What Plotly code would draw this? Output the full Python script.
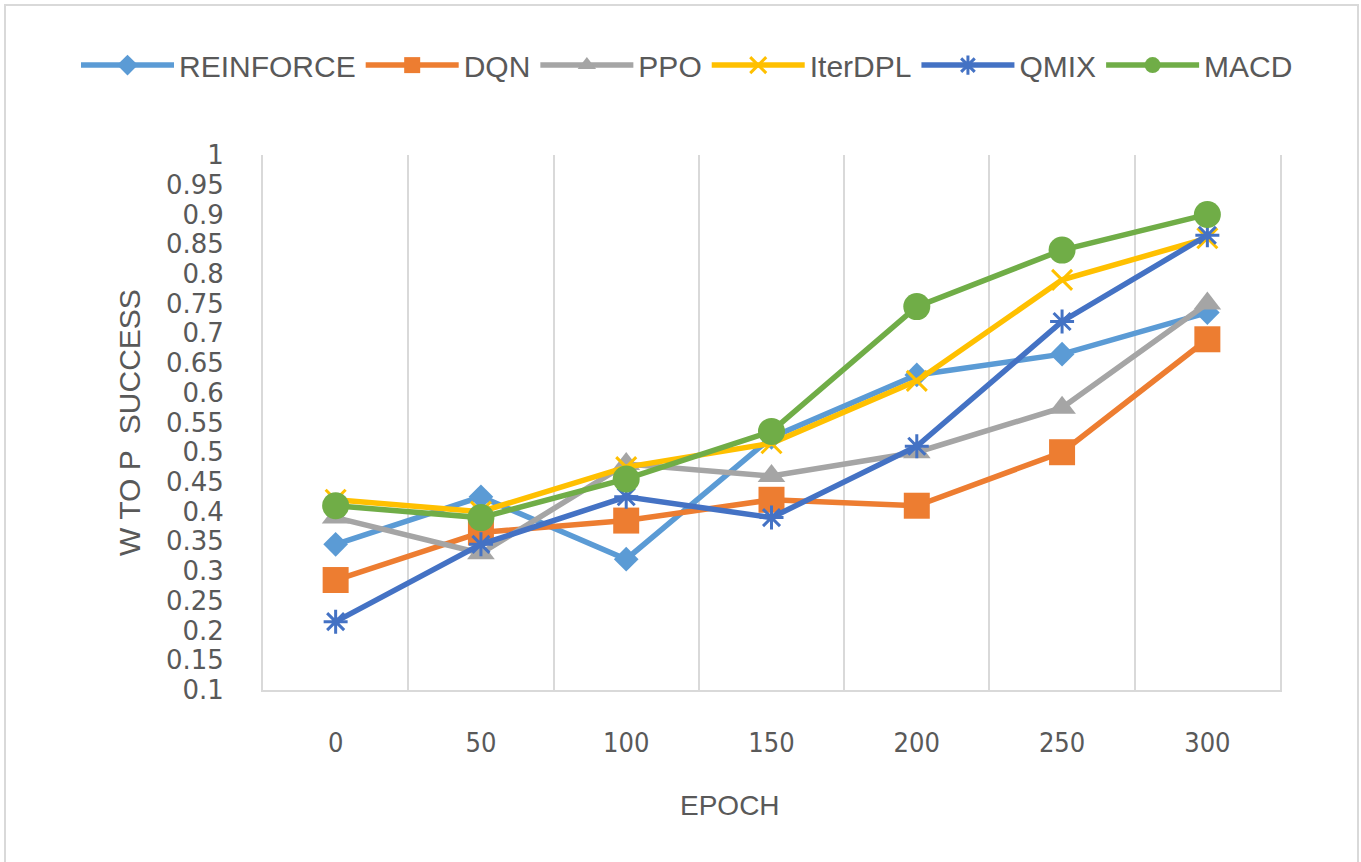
import plotly.graph_objects as go

# Training epochs (category axis)
epochs = ["0", "50", "100", "150", "200", "250", "300"]

# W TO P success rate per method
reinforce = [0.345, 0.425, 0.32, 0.525, 0.63, 0.665, 0.735]
dqn = [0.285, 0.365, 0.385, 0.42, 0.41, 0.50, 0.69]
ppo = [0.39, 0.33, 0.48, 0.46, 0.50, 0.575, 0.75]
iterdpl = [0.42, 0.40, 0.475, 0.515, 0.62, 0.79, 0.86]
qmix = [0.215, 0.345, 0.425, 0.39, 0.51, 0.72, 0.865]
macd = [0.41, 0.39, 0.455, 0.535, 0.745, 0.84, 0.90]

y_ticks = [0.1, 0.15, 0.2, 0.25, 0.3, 0.35, 0.4, 0.45, 0.5, 0.55,
           0.6, 0.65, 0.7, 0.75, 0.8, 0.85, 0.9, 0.95, 1.0]
y_tick_text = ["0.1", "0.15", "0.2", "0.25", "0.3", "0.35", "0.4", "0.45", "0.5", "0.55",
               "0.6", "0.65", "0.7", "0.75", "0.8", "0.85", "0.9", "0.95", "1"]

TEXT = "#595959"
GRID = "#D9D9D9"
SANS = "Liberation Sans, Arial, sans-serif"

series = [
    ("REINFORCE", reinforce, "#5B9BD5", dict(symbol="diamond", size=19)),
    ("DQN", dqn, "#ED7D31", dict(symbol="square", size=26)),
    ("PPO", ppo, "#A5A5A5", dict(symbol="triangle-up", size=24)),
    ("IterDPL", iterdpl, "#FFC000", dict(symbol="x-thin", size=20, line=dict(width=3, color="#FFC000"))),
    ("QMIX", qmix, "#4472C4", dict(symbol="asterisk", size=20, line=dict(width=3, color="#4472C4"))),
    ("MACD", macd, "#70AD47", dict(symbol="circle", size=27)),
]

fig = go.Figure()
for name, vals, color, mk in series:
    fig.add_trace(go.Scatter(
        x=epochs, y=vals, name=name, mode="lines+markers",
        line=dict(color=color, width=5.5),
        marker=dict(color=color, **mk),
    ))

fig.update_layout(
    width=1361, height=862,
    margin=dict(l=263, r=81, t=155, b=172),
    paper_bgcolor="white", plot_bgcolor="white",
    font=dict(family=SANS, color=TEXT),
    showlegend=True,
    legend=dict(
        orientation="h", x=(76 - 263) / 1017, xanchor="left", y=1.168, yanchor="middle",
        font=dict(family=SANS, size=30, color=TEXT),
        itemwidth=93, traceorder="normal",
    ),
    xaxis=dict(
        type="category", tickson="boundaries",
        showgrid=True, gridcolor=GRID, gridwidth=2,
        showline=True, linecolor=GRID, linewidth=2,
        ticks="", ticklabelstandoff=28,
        tickfont=dict(family="DejaVu Sans Condensed, DejaVu Sans, sans-serif", size=27, color=TEXT),
        range=[-0.5, 6.5], fixedrange=True,
    ),
    yaxis=dict(
        range=[0.1, 1.0], tickvals=y_ticks, ticktext=y_tick_text,
        showgrid=False, zeroline=False,
        showline=True, mirror=True, linecolor=GRID, linewidth=2,
        ticks="", ticklabelstandoff=32,
        tickfont=dict(family="DejaVu Sans, sans-serif", size=26, color=TEXT),
        title=dict(text="W TO P  SUCCESS", standoff=16,
                   font=dict(family=SANS, size=30, color=TEXT)),
    ),
    annotations=[dict(
        text="EPOCH", xref="paper", yref="paper",
        x=(730 - 263) / 1017, y=(690 - 805) / 535,
        xanchor="center", yanchor="middle", showarrow=False,
        font=dict(family=SANS, size=28, color=TEXT),
    )],
    shapes=[dict(
        type="rect", xref="paper", yref="paper",
        x0=(5 - 263) / 1017, x1=(1358 - 263) / 1017,
        y0=(690 - 880) / 535, y1=(690 - 5) / 535,
        line=dict(color=GRID, width=2), fillcolor="rgba(0,0,0,0)", layer="below",
    )],
)

fig.write_html("out.html")
